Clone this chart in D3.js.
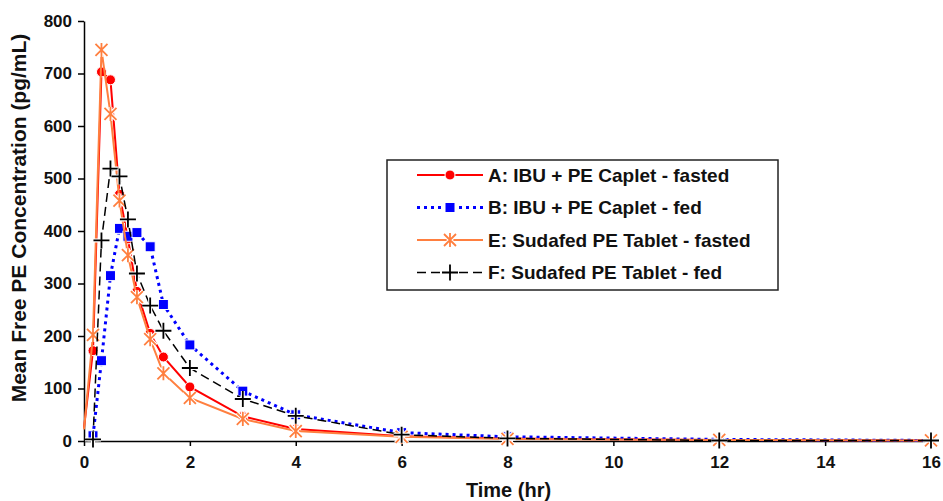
<!DOCTYPE html>
<html>
<head>
<meta charset="utf-8">
<script src="https://cdn.jsdelivr.net/npm/d3@7"></script>
<style>
  body { margin: 0; background: #fff; }
  svg { display: block; font-family: "Liberation Sans", Arial, sans-serif; }
  .axis text { font-size: 17px; font-weight: bold; fill: #111; }
  .axis path, .axis line { stroke: #000; stroke-width: 1.5; }
</style>
</head>
<body>
<svg id="chart" width="943" height="501"></svg>
<script>
// sampling times (hr)
const times = [0, 0.17, 0.33, 0.5, 0.67, 0.83, 1, 1.25, 1.5, 2, 3, 4, 6, 8, 12, 16];

// mean free PE concentration (pg/mL), one array per treatment
const ibuFasted = [25, 172, 703, 688, 470, 385, 285, 205, 160, 103, 47, 23, 9, 5, 2, 1];
const ibuFed = [null, 10, 153, 315, 405, 390, 397, 370, 260, 183, 95, 50, 16, 8, 3, 1];
const sudFasted = [22, 202, 745, 623, 458, 354, 274, 194, 129, 82, 42, 19, 8, 4, 2, 1];
const sudFed = [null, 3, 382, 519, 504, 422, 319, 258, 210, 139, 80, 48, 12, 5, 1, 1];

const seriesNames = [
  'A: IBU + PE Caplet - fasted',
  'B: IBU + PE Caplet - fed',
  'E: Sudafed PE Tablet - fasted',
  'F: Sudafed PE Tablet - fed'
];

const xTicks = [0, 2, 4, 6, 8, 10, 12, 14, 16];
const yTicks = [0, 100, 200, 300, 400, 500, 600, 700, 800];

const series = [
  { name: seriesNames[0], values: ibuFasted, color: '#ff0000', dash: null, width: 2, marker: 'circle' },
  { name: seriesNames[1], values: ibuFed, color: '#0000ff', dash: '3,4', width: 3, marker: 'square' },
  { name: seriesNames[2], values: sudFasted, color: '#ff7f3f', dash: null, width: 2, marker: 'star' },
  { name: seriesNames[3], values: sudFed, color: '#000000', dash: '9,5', width: 1.5, marker: 'plus' }
];

const svg = d3.select('#chart');
const margin = { left: 84, top: 21, right: 12, bottom: 60 };
const width = 943, height = 501;

const x = d3.scaleLinear().domain([0, 16]).range([margin.left, width - margin.right]);
const y = d3.scaleLinear().domain([0, 800]).range([height - margin.bottom, margin.top]);

// axes
svg.append('g')
  .attr('class', 'axis')
  .attr('transform', `translate(0,${y(0)})`)
  .call(d3.axisBottom(x).tickValues(xTicks).tickSize(5).tickPadding(10).tickSizeOuter(0));

svg.append('g')
  .attr('class', 'axis')
  .attr('transform', `translate(${x(0)},0)`)
  .call(d3.axisLeft(y).tickValues(yTicks).tickSize(6).tickPadding(6).tickSizeOuter(0));

// axis titles
svg.append('text')
  .attr('x', (x(0) + x(16)) / 2 + 1)
  .attr('y', 497)
  .attr('text-anchor', 'middle')
  .style('font-size', '20px').style('font-weight', 'bold').style('fill', '#111')
  .text('Time (hr)');

svg.append('text')
  .attr('transform', `translate(26,218) rotate(-90)`)
  .attr('text-anchor', 'middle')
  .style('font-size', '21px').style('font-weight', 'bold').style('fill', '#111')
  .text('Mean Free PE Concentration (pg/mL)');

function drawMarker(g, type, color) {
  // white halo first, then the coloured mark
  if (type === 'circle') {
    g.append('circle').attr('r', 5).attr('fill', color).attr('stroke', '#fff').attr('stroke-width', 1);
  } else if (type === 'square') {
    g.append('rect').attr('x', -5).attr('y', -5).attr('width', 10).attr('height', 10)
      .attr('fill', color).attr('stroke', '#fff').attr('stroke-width', 1);
  } else if (type === 'star') {
    const p = 'M0,-7L0,7M-6,-6L6,6M-6,6L6,-6';
    g.append('path').attr('d', p).attr('stroke', '#fff').attr('stroke-width', 4).attr('fill', 'none');
    g.append('path').attr('d', p).attr('stroke', color).attr('stroke-width', 1.8).attr('fill', 'none');
  } else if (type === 'plus') {
    const p = 'M-8,0L8,0M0,-8L0,8';
    g.append('path').attr('d', p).attr('stroke', '#fff').attr('stroke-width', 4).attr('fill', 'none');
    g.append('path').attr('d', p).attr('stroke', color).attr('stroke-width', 1.8).attr('fill', 'none');
  }
}

const line = d3.line()
  .defined(d => d.v !== null)
  .x(d => x(d.t))
  .y(d => y(d.v));

series.forEach(s => {
  const pts = times.map((t, i) => ({ t, v: s.values[i] }));
  svg.append('path')
    .datum(pts)
    .attr('d', line)
    .attr('fill', 'none')
    .attr('stroke', s.color)
    .attr('stroke-width', s.width)
    .attr('stroke-dasharray', s.dash);

  // no marker at the pre-dose time
  pts.filter(d => d.v !== null && d.t > 0).forEach(d => {
    const g = svg.append('g').attr('transform', `translate(${x(d.t)},${y(d.v)})`);
    drawMarker(g, s.marker, s.color);
  });
});

// legend
const legend = svg.append('g').attr('transform', 'translate(387,160)');
legend.append('rect')
  .attr('width', 391).attr('height', 130)
  .attr('fill', '#fff').attr('stroke', '#222').attr('stroke-width', 1.5);

series.forEach((s, i) => {
  const ly = 15 + i * 32.5;
  const row = legend.append('g').attr('transform', `translate(0,${ly})`);
  row.append('line')
    .attr('x1', 30).attr('x2', 96).attr('y1', 0).attr('y2', 0)
    .attr('stroke', s.color).attr('stroke-width', s.width)
    .attr('stroke-dasharray', s.dash);
  const g = row.append('g').attr('transform', 'translate(63,0)');
  drawMarker(g, s.marker, s.color);
  row.append('text')
    .attr('x', 101).attr('y', 0).attr('dy', '0.35em')
    .style('font-size', '19px').style('font-weight', 'bold').style('fill', '#111')
    .text(s.name);
});
</script>
</body>
</html>
